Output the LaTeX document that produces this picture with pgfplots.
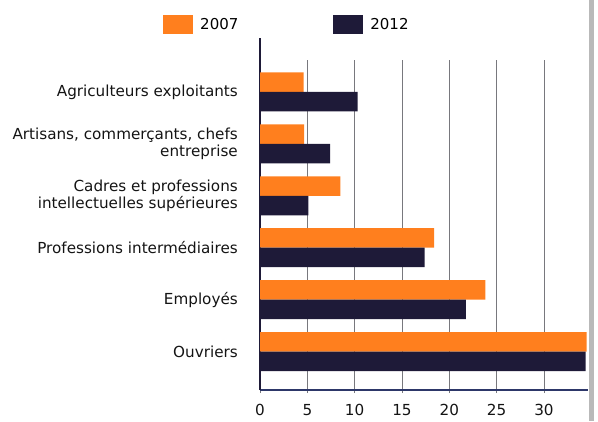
\documentclass[border=0pt]{standalone}
\usepackage{pgfplots}
\pgfplotsset{compat=1.18}
\usepackage{fontspec}
\setmainfont{DejaVu Sans}
\definecolor{orng}{RGB}{255,127,30}
\definecolor{navy}{RGB}{30,26,56}
\definecolor{axblue}{RGB}{45,55,105}
\definecolor{gridg}{RGB}{120,120,125}
\begin{document}
\begin{tikzpicture}[x=1bp,y=1bp]
\path[use as bounding box] (0,0) rectangle (598,421);
\fill[gray!55] (589,0) rectangle (594,421);
\begin{axis}[
  at={(260bp,31bp)}, anchor=south west,
  scale only axis, width=328bp, height=330bp,
  xbar, xmin=0, xmax=34.65, ymin=-0.74, ymax=5.615,
  axis x line=bottom, axis y line=left, axis line style={-},
  x axis line style={axblue, line width=1.2bp},
  y axis line style={navy, line width=1.4bp, shorten >=-22bp},
  xtick={0,5,...,30}, ytick={0,...,5},
  yticklabels={Ouvriers, Employés, Professions intermédiaires, {Cadres et professions\\intellectuelles supérieures}, {Artisans, commerçants, chefs\\entreprise}, Agriculteurs exploitants},
  xmajorgrids, grid style={gridg, line width=0.9bp},
  tick align=outside, major tick length=3bp,
  xtick style={gridg, line width=0.9bp}, ytick style={draw=none},
  bar width=0.375,
  /pgf/number format/assume math mode=true,
  tick label style={font=\fontsize{15.2bp}{17bp}\selectfont, text=black!92},
  yticklabel style={align=right, inner sep=0pt, xshift=-19bp},
  xticklabel style={inner sep=0pt, text depth=0pt, yshift=-11bp},
  legend style={at={(-0.2957,1.1076)}, anchor=west, draw=none, fill=none,
    legend columns=2, inner sep=0pt, nodes={inner sep=0pt},
    font=\fontsize{15bp}{17bp}\selectfont,
    /tikz/every odd column/.append style={column sep=7bp},
    /tikz/every even column/.append style={column sep=95bp}},
  legend image code/.code={\fill[#1] (0bp,-9.5bp) rectangle (30bp,9.5bp);},
]
\addplot[fill=orng, draw=none, bar shift=0.1875] coordinates {(4.6,5) (4.65,4) (8.5,3) (18.4,2) (23.8,1) (34.5,0)};
\addlegendentry{2007}
\addplot[fill=navy, draw=none, bar shift=-0.1875] coordinates {(10.3,5) (7.4,4) (5.1,3) (17.4,2) (21.75,1) (34.4,0)};
\addlegendentry{2012}
\end{axis}
\end{tikzpicture}
\end{document}
